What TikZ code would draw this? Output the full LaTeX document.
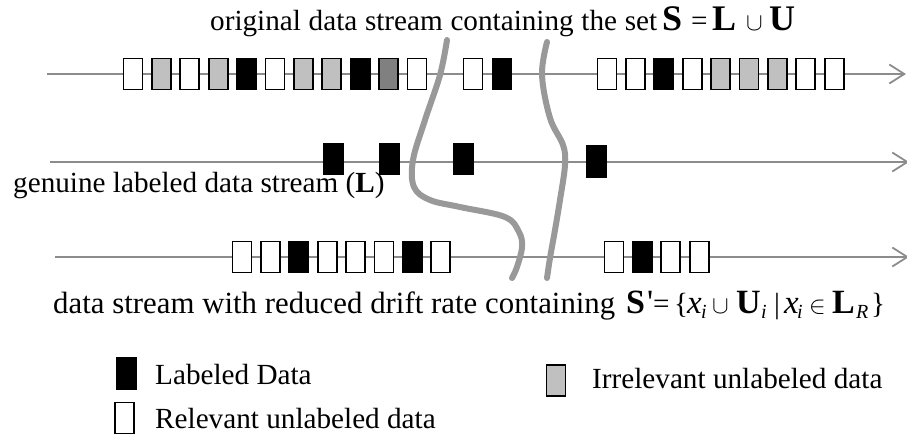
\documentclass[tikz,border=0pt]{standalone}
\usepackage{fontspec}
\setmainfont{Liberation Serif}
\usetikzlibrary{arrows.meta}
\definecolor{streamgray}{RGB}{140,140,140}
\definecolor{curvegray}{RGB}{153,153,153}
\definecolor{lightbox}{RGB}{192,192,192}
\definecolor{darkfill}{RGB}{128,128,128}
\newcommand{\mbigA}{\fontsize{36}{40}\selectfont}
\newcommand{\mbigB}{\fontsize{34}{38}\selectfont}
\newcommand{\mx}{\fontsize{33}{38}\selectfont}
\newcommand{\gl}[2]{\makebox[#1pt][l]{#2}}
\newcommand{\msub}[1]{\raisebox{-5pt}{\fontsize{20}{22}\selectfont\textit{#1}}}
\begin{document}
\begin{tikzpicture}[x=1pt,y=-1pt,
  every node/.style={font=\fontsize{29.2}{34}\selectfont, inner sep=0pt},
  stream/.style={draw=streamgray, line width=1.8pt, -{Straight Barb[length=15pt,width=19pt,line width=1.8pt]}},
  cell/.style={draw=black, line width=1.8pt, minimum width=19pt, minimum height=31pt, inner sep=0pt, outer sep=0pt},
  rel/.style={cell, fill=white},
  irr/.style={cell, fill=lightbox},
  irrdark/.style={cell, fill=darkfill},
  lab/.style={cell, fill=black},
  cut/.style={draw=curvegray, line width=6pt, line cap=round},
  txt/.style={anchor=base west}
]
\useasboundingbox (0,0) rectangle (907,436);

% stream lines
\coordinate (s1) at (47,74);  \coordinate (e1) at (906,74);
\coordinate (s2) at (50,162); \coordinate (e2) at (909,162);
\coordinate (s3) at (55,257); \coordinate (e3) at (909,257);
\draw[stream] (s1) -- (e1);
\draw[stream] (s2) -- (e2);
\draw[stream] (s3) -- (e3);

% row 1 boxes
\foreach \st [count=\i] in {rel,irr,rel,irr,lab,rel,irr,irr,lab,irrdark,rel}
  \node[\st] (a\i) at ({133+28.4*(\i-1)},74) {};
\node[rel] (b1) at (473,74) {};
\node[lab] (b2) at (502,74) {};
\foreach \st [count=\i] in {rel,rel,lab,rel,irr,irr,irr,rel,rel}
  \node[\st] (c\i) at ({607+28.4*(\i-1)},74) {};

% row 2 boxes
\node[lab] (l1) at (333.5,159) {};
\node[lab] (l2) at (389.5,159) {};
\node[lab] (l3) at (463.5,159) {};
\node[lab] (l4) at (596.5,161.5) {};

% row 3 boxes
\foreach \st [count=\i] in {rel,rel,lab,rel,rel,rel,lab,rel}
  \node[\st] (d\i) at ({242+28.4*(\i-1)},257) {};
\foreach \st [count=\i] in {rel,lab,rel,rel}
  \node[\st] (f\i) at ({614+28.4*(\i-1)},257) {};

% cut curves
\draw[cut] plot[smooth, tension=0.6] coordinates {(447,40) (440,75) (425,120) (413,160) (414,187) (430,200) (460,207) (505,217) (519,232) (522,247) (517,267) (512,278)};
\draw[cut] plot[smooth, tension=0.6] coordinates {(547,42) (542,75) (550,118) (563,145) (565,165) (560,200) (555,230) (550,258) (547,278)};

% texts
\node[txt] (t1) at (210,31) {\makebox[447pt][s]{original data stream containing the set}\hspace{5pt}\gl{29}{\mbigA\textbf{S}}\gl{21}{=}\gl{34}{\mbigA\textbf{L}}\gl{23}{$\cup$}{\mbigA\textbf{U}}};
\node[txt] (t2) at (13,192) {genuine labeled data stream (\textbf{L})};
\node[txt] (t3) at (53,313) {\makebox[562pt][s]{\fontsize{30.8}{34}\selectfont data stream with reduced drift rate containing}\hspace{11pt}\gl{21}{\mbigB\textbf{S}}\gl{6}{\mbigB\textquotesingle}\gl{21}{=}\gl{13}{\{}\gl{14}{\mx\textit{x}}\gl{11}{\msub{i}}\gl{24}{$\cup$}\gl{25}{\mbigB\textbf{U}}\gl{13}{\msub{i}}\gl{10}{|}\gl{13}{\mx\textit{x}}\gl{12}{\msub{i}}\gl{23}{$\in$}\gl{24}{\mbigB\textbf{L}}\gl{15}{\msub{R}}\}};

% legend
\node[lab] (k1) at (126.5,373.5) {};
\node[txt] (k1t) at (155,384) {Labeled Data};
\node[rel] (k2) at (124.5,418) {};
\node[txt] (k2t) at (155,428) {Relevant unlabeled data};
\node[irr] (k3) at (556,380.5) {};
\node[txt] (k3t) at (592,388) {Irrelevant unlabeled data};
\end{tikzpicture}
\end{document}
